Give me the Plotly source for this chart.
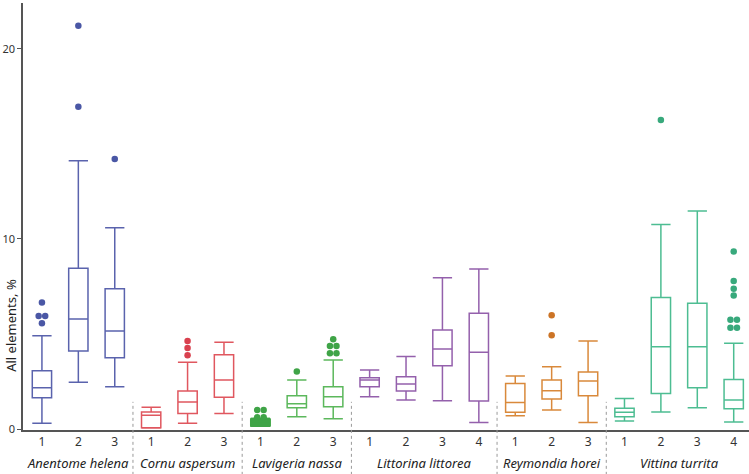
import plotly.graph_objects as go

species = ["Anentome helena", "Cornu aspersum", "Lavigeria nassa",
           "Littorina littorea", "Reymondia horei", "Vittina turrita"]
groups = {
    "Anentome helena": ["1", "2", "3"],
    "Cornu aspersum": ["1", "2", "3"],
    "Lavigeria nassa": ["1", "2", "3"],
    "Littorina littorea": ["1", "2", "3", "4"],
    "Reymondia horei": ["1", "2", "3"],
    "Vittina turrita": ["1", "2", "3", "4"],
}
lower = {
    "Anentome helena": [0.30, 2.46, 2.23],
    "Cornu aspersum": [0.05, 0.30, 0.82],
    "Lavigeria nassa": [0.15, 0.65, 0.54],
    "Littorina littorea": [1.70, 1.53, 1.49, 0.35],
    "Reymondia horei": [0.70, 1.00, 0.35],
    "Vittina turrita": [0.42, 0.89, 1.12, 0.37],
}
q1 = {
    "Anentome helena": [1.65, 4.10, 3.75],
    "Cornu aspersum": [0.07, 0.82, 1.67],
    "Lavigeria nassa": [0.18, 1.12, 1.17],
    "Littorina littorea": [2.23, 2.00, 3.33, 1.47],
    "Reymondia horei": [0.88, 1.58, 1.75],
    "Vittina turrita": [0.65, 1.87, 2.17, 1.07],
}
median = {
    "Anentome helena": [2.17, 5.79, 5.16],
    "Cornu aspersum": [0.72, 1.42, 2.58],
    "Lavigeria nassa": [0.30, 1.33, 1.70],
    "Littorina littorea": [2.58, 2.37, 4.21, 4.04],
    "Reymondia horei": [1.40, 2.02, 2.53],
    "Vittina turrita": [0.88, 4.33, 4.33, 1.53],
}
q3 = {
    "Anentome helena": [3.07, 8.46, 7.38],
    "Cornu aspersum": [0.89, 2.00, 3.91],
    "Lavigeria nassa": [0.51, 1.75, 2.23],
    "Littorina littorea": [2.70, 2.75, 5.21, 6.09],
    "Reymondia horei": [2.40, 2.58, 3.00],
    "Vittina turrita": [1.09, 6.91, 6.61, 2.61],
}
upper = {
    "Anentome helena": [4.91, 14.10, 10.58],
    "Cornu aspersum": [1.14, 3.51, 4.56],
    "Lavigeria nassa": [0.55, 2.58, 3.63],
    "Littorina littorea": [3.10, 3.81, 7.96, 8.42],
    "Reymondia horei": [2.79, 3.28, 4.63],
    "Vittina turrita": [1.60, 10.75, 11.47, 4.51],
}
outliers = {
    "Anentome helena": [[6.65, 5.95, 5.95, 5.56], [21.2, 16.95], [14.2]],
    "Cornu aspersum": [[], [4.63, 4.26, 3.88], []],
    "Lavigeria nassa": [[1.0, 1.0, 0.62, 0.62], [3.02], [4.72, 4.37, 4.37, 3.98, 3.98]],
    "Littorina littorea": [[], [], [], []],
    "Reymondia horei": [[], [5.98, 4.93], []],
    "Vittina turrita": [[], [16.25], [], [9.33, 7.79, 7.37, 7.02, 5.74, 5.74, 5.33, 5.33]],
}
line_colors = {
    "Anentome helena": "#5a63ad",
    "Cornu aspersum": "#e0575f",
    "Lavigeria nassa": "#5cb85c",
    "Littorina littorea": "#9460ac",
    "Reymondia horei": "#d9893b",
    "Vittina turrita": "#4dbd92",
}
marker_colors = {
    "Anentome helena": "#4a57a5",
    "Cornu aspersum": "#d9404e",
    "Lavigeria nassa": "#3fa447",
    "Littorina littorea": "#8a4fa3",
    "Reymondia horei": "#cc7426",
    "Vittina turrita": "#38a97c",
}

fig = go.Figure()
pos = 0
tickvals, ticktext = [], []
separators, centers = [], []
for si, sp in enumerate(species):
    n = len(groups[sp])
    xs = list(range(pos, pos + n))
    tickvals += xs
    ticktext += groups[sp]
    centers.append((xs[0] + xs[-1]) / 2)
    if si > 0:
        separators.append(pos - 0.5)
    fig.add_trace(go.Box(
        x=xs, q1=q1[sp], median=median[sp], q3=q3[sp],
        lowerfence=lower[sp], upperfence=upper[sp],
        boxpoints=False, width=0.53, whiskerwidth=1,
        line=dict(color=line_colors[sp], width=1.5),
        fillcolor="white", showlegend=False, hoverinfo="skip",
    ))
    # Lavigeria 1: compressed box looks solid
    if sp == "Lavigeria nassa":
        fig.add_trace(go.Box(
            x=[xs[0]], q1=[q1[sp][0]], median=[median[sp][0]], q3=[q3[sp][0]],
            lowerfence=[lower[sp][0]], upperfence=[upper[sp][0]],
            boxpoints=False, width=0.53, whiskerwidth=1,
            line=dict(color=marker_colors[sp], width=1.5),
            fillcolor=marker_colors[sp], showlegend=False, hoverinfo="skip",
        ))
    ox, oy = [], []
    for k, vals in enumerate(outliers[sp]):
        counts = {}
        for v in vals:
            counts[v] = counts.get(v, 0) + 1
        seen = {}
        for v in vals:
            c = counts[v]
            j = seen.get(v, 0)
            seen[v] = j + 1
            off = 0.0 if c == 1 else (j - (c - 1) / 2) * 0.18
            ox.append(xs[k] + off)
            oy.append(v)
    if ox:
        fig.add_trace(go.Scatter(
            x=ox, y=oy, mode="markers",
            marker=dict(color=marker_colors[sp], size=6.5),
            showlegend=False, hoverinfo="skip",
        ))
    pos += n

font_family = "Noto Sans"
shapes = []
for s in separators:
    shapes.append(dict(type="line", xref="x", yref="paper", x0=s, x1=s,
                       y0=-0.105, y1=0.066,
                       line=dict(color="#999999", width=1, dash="dot")))
annotations = []
for sp, c in zip(species, centers):
    annotations.append(dict(text="<i>" + sp + "</i>", x=c, xref="x",
                            y=-0.077, yref="paper", showarrow=False,
                            font=dict(size=13, color="#222222", family=font_family),
                            xanchor="center", yanchor="middle"))
annotations.append(dict(text="All elements, %", x=0, xref="paper", xshift=-12,
                        xanchor="center", yanchor="middle",
                        y=0.244, yref="paper", textangle=-90, showarrow=False,
                        font=dict(size=13, color="#222222", family=font_family)))

fig.update_layout(
    width=749, height=474,
    margin=dict(l=23, r=0, t=3, b=44),
    paper_bgcolor="white", plot_bgcolor="white",
    boxmode="overlay",
    font=dict(family=font_family, size=12, color="#333333"),
    shapes=shapes, annotations=annotations,
    xaxis=dict(range=[-0.52, 19.42], tickvals=tickvals, ticktext=ticktext,
               showgrid=False, zeroline=False, showline=True,
               linecolor="#555555", linewidth=1.5, ticks="",
               tickfont=dict(size=12, color="#333333"), fixedrange=True),
    yaxis=dict(range=[-0.05, 22.4], tickvals=[0, 10, 20],
               showgrid=False, zeroline=False, showline=True,
               linecolor="#555555", linewidth=1.5, ticks="outside",
               ticklen=4, tickcolor="#555555", tickwidth=1.2,
               tickfont=dict(size=11, color="#333333"), automargin=False),
)

fig.write_html("out.html", config={"displayModeBar": False},
               post_script="document.body.style.margin='0';document.body.style.padding='0';")
